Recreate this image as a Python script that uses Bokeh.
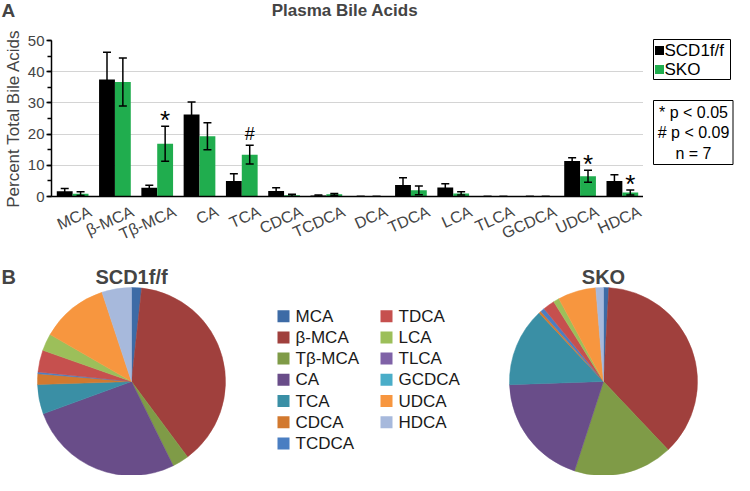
import math
from bokeh.plotting import figure
from bokeh.models import (ColumnDataSource, Range1d, Whisker, TeeHead, Label,
                          SingleIntervalTicker, LinearAxis, FixedTicker)
from bokeh.transform import dodge
from bokeh.layouts import column, row
from bokeh.embed import file_html
from bokeh.resources import INLINE
from bokeh.core.properties import value

# ---------------- data ----------------
cats = ["MCA", "β-MCA", "Tβ-MCA", "CA", "TCA", "CDCA", "TCDCA", "DCA",
        "TDCA", "LCA", "TLCA", "GCDCA", "UDCA", "HDCA"]
scd1 = [1.7, 37.5, 2.8, 26.3, 5.0, 1.8, 0.3, 0.0, 3.7, 2.9, 0.0, 0.0, 11.4, 5.0]
scd1_err = [0.9, 8.7, 0.8, 4.0, 2.3, 1.0, 0.2, 0.0, 2.3, 1.2, 0.0, 0.0, 1.0, 2.0]
sko = [0.9, 36.7, 16.9, 19.3, 13.4, 0.4, 0.7, 0.0, 2.0, 1.0, 0.0, 0.0, 6.5, 1.3]
sko_err = [0.6, 7.7, 5.6, 4.3, 3.0, 0.3, 0.3, 0.0, 1.4, 0.5, 0.0, 0.0, 1.9, 0.8]
sig = ["", "", "*", "", "#", "", "", "", "", "", "", "", "*", "*"]
series_names = ["SCD1f/f", "SKO"]
stats_lines = ["* p < 0.05", "# p < 0.09", "n = 7"]

pie_cats = ["MCA", "β-MCA", "Tβ-MCA", "CA", "TCA", "CDCA", "TCDCA",
            "TDCA", "LCA", "TLCA", "GCDCA", "UDCA", "HDCA"]
pie_colors = ["#3D6BA6", "#A0403D", "#7F9B47", "#694D89", "#3A8FA5", "#D2792F", "#4A7EC2",
              "#C6504E", "#9CBF5A", "#7F62A7", "#4AADC8", "#F7963F", "#A7B9DC"]

FONT = "Liberation Sans"
GREEN = "#20AD4E"
BLACK = "#000000"


def no_align(fig):
    try:
        fig.frame_align = False
    except Exception:
        pass


def blank_fig(w, h):
    f = figure(width=w, height=h, x_range=Range1d(0, w), y_range=Range1d(0, h),
               output_backend="svg", toolbar_location=None, min_border=0,
               min_border_left=0, min_border_right=0, min_border_top=0, min_border_bottom=0,
               x_axis_type=None, y_axis_type=None)
    f.outline_line_color = None
    f.grid.visible = False
    no_align(f)
    return f


# ---------------- top strip: panel letter + title ----------------
p_top = blank_fig(734, 30)
p_top.add_layout(Label(x=1, y=20, text="A", text_align="left", text_baseline="middle",
                       text_font=FONT, text_font_style="bold", text_font_size="19px"))
p_top.add_layout(Label(x=344.5, y=20.5, text="Plasma Bile Acids", text_align="center",
                       text_baseline="middle", text_font=FONT, text_font_style="bold",
                       text_font_size="17px"))

# ---------------- bar chart ----------------
n = len(cats)
centers = [i + 0.5 for i in range(n)]          # category slot centres on the x scale
src = ColumnDataSource(dict(
    xc=centers, scd1=scd1, sko=sko,
    scd1_hi=[v + e for v, e in zip(scd1, scd1_err)],
    scd1_lo=[v - e for v, e in zip(scd1, scd1_err)],
    sko_hi=[v + e for v, e in zip(sko, sko_err)],
    sko_lo=[v - e for v, e in zip(sko, sko_err)],
    sig=sig,
    sig_size=["26px" if s == "*" else "18px" for s in sig],
    sig_off=[-6 if s == "*" else -11 for s in sig],
))

p = figure(x_range=Range1d(0, n), y_range=Range1d(0, 50),
           width=643, height=232, output_backend="svg", toolbar_location=None,
           x_axis_location=None,
           min_border_left=46, min_border_right=0, min_border_top=10, min_border_bottom=66)
no_align(p)
p.outline_line_color = None
p.xgrid.visible = False
p.ygrid.grid_line_color = "#d4d4d4"
p.ygrid.grid_line_width = 1

off = 0.1875
bw = 0.375
r1 = p.vbar(x=dodge("xc", -off), top="scd1", width=bw, source=src,
            fill_color=BLACK, line_color=None)
r2 = p.vbar(x=dodge("xc", off), top="sko", width=bw, source=src,
            fill_color=GREEN, line_color=None)

for base, hi, lo in [(-off, "scd1_hi", "scd1_lo"), (off, "sko_hi", "sko_lo")]:
    w = Whisker(base=dodge("xc", base), upper=hi, lower=lo, source=src,
                line_color=BLACK, line_width=1.5, level="annotation",
                upper_head=TeeHead(size=8, line_color=BLACK, line_width=1.5),
                lower_head=TeeHead(size=8, line_color=BLACK, line_width=1.5))
    p.add_layout(w)

p.text(x=dodge("xc", off), y="sko_hi", text="sig", source=src,
       y_offset="sig_off", text_align="center", text_baseline="alphabetic",
       text_font=value(FONT), text_font_size="sig_size", text_color=BLACK)

yax = p.yaxis[0]
yax.ticker = SingleIntervalTicker(interval=10, num_minor_ticks=2)
yax.axis_label = "Percent Total Bile Acids"
yax.axis_label_text_font = FONT
yax.axis_label_text_font_style = "normal"
yax.axis_label_text_font_size = "17px"
yax.axis_label_standoff = 2
yax.major_label_text_font = FONT
yax.major_label_text_font_size = "15px"
yax.major_label_standoff = 2
yax.major_tick_in = 0
yax.major_tick_out = 5
yax.minor_tick_in = 0
yax.minor_tick_out = 4
yax.axis_line_width = 1.5
yax.major_tick_line_width = 1.5
yax.minor_tick_line_width = 1.5

# category axis: labels anchored a little to the right of each category centre
lab_shift = 0.42
p.extra_x_ranges = {"labels": Range1d(-lab_shift, n - lab_shift)}
xax = LinearAxis(x_range_name="labels", ticker=FixedTicker(ticks=centers),
                 major_label_overrides={t: c for t, c in zip(centers, cats)})
xax.major_label_orientation = 0.42
xax.major_tick_line_color = None
xax.minor_tick_line_color = None
xax.major_label_text_font = FONT
xax.major_label_text_font_size = "16px"
xax.major_label_standoff = 8
xax.axis_line_width = 1.5
p.add_layout(xax, "below")

# ---------------- side strip: legend + statistics box ----------------
p_side = blank_fig(91, 232)
p_side.quad(left=[10], right=[87], top=[223], bottom=[183], fill_color="white",
            line_color=BLACK, line_width=1)
p_side.rect(x=[16, 16], y=[212, 193], width=9, height=9, fill_color=[BLACK, GREEN],
            line_color=None)
p_side.text(x=[21, 21], y=[212, 193], text=series_names, text_baseline="middle",
            text_align="left", text_font=value(FONT), text_font_size="17px", text_color=BLACK)
p_side.quad(left=[10], right=[89.5], top=[162], bottom=[98], fill_color="white",
            line_color=BLACK, line_width=1)
p_side.text(x=[50, 50, 50], y=[150.5, 130, 109.5], text=stats_lines, text_baseline="middle",
            text_align="center", text_font=value(FONT), text_font_size="16px",
            text_color=BLACK)

# ---------------- pies ----------------
p2 = blank_fig(734, 213)


def pie_source(vals, cx, cy):
    total = sum(vals)
    xs, ys, st, en, cols = [], [], [], [], []
    cum = 0.0
    for v, c in zip(vals, pie_colors):
        f0 = cum / total
        cum += v
        f1 = cum / total
        if v > 0:
            xs.append(cx); ys.append(cy)
            st.append(math.pi / 2 - 2 * math.pi * f1)
            en.append(math.pi / 2 - 2 * math.pi * f0)
            cols.append(c)
    return ColumnDataSource(dict(x=xs, y=ys, s=st, e=en, c=cols))


idx = [cats.index(c) for c in pie_cats]
pies = [([scd1[i] for i in idx], 131, 94, series_names[0]),
        ([sko[i] for i in idx], 603, 94, series_names[1])]
for vals, cx, cy, name in pies:
    ps = pie_source(vals, cx, cy)
    p2.wedge(x="x", y="y", radius=94, start_angle="s", end_angle="e", direction="anticlock",
             fill_color="c", line_color="c", line_width=0.5, source=ps)
    p2.add_layout(Label(x=cx, y=199, text=name, text_align="center", text_baseline="middle",
                        text_font=FONT, text_font_style="bold", text_font_size="20px"))

p2.add_layout(Label(x=1, y=199, text="B", text_align="left", text_baseline="middle",
                    text_font=FONT, text_font_style="bold", text_font_size="20px"))

lx, ly, tx = [], [], []
for i in range(len(pie_cats)):
    col, rw = divmod(i, 7)
    lx.append(283 + col * 103)
    tx.append(295 + col * 103)
    ly.append(159.3 - rw * 21.2)
lsrc = ColumnDataSource(dict(x=lx, y=ly, tx=tx, c=pie_colors, t=pie_cats))
p2.rect(x="x", y="y", width=12, height=12, fill_color="c", line_color=None, source=lsrc)
p2.text(x="tx", y="y", text="t", text_baseline="middle", text_align="left",
        text_font=value(FONT), text_font_size="17px", text_color="#1a1a1a", source=lsrc)

layout = column(p_top, row(p, p_side), p2)
open("out.html", "w").write(file_html(layout, INLINE))
